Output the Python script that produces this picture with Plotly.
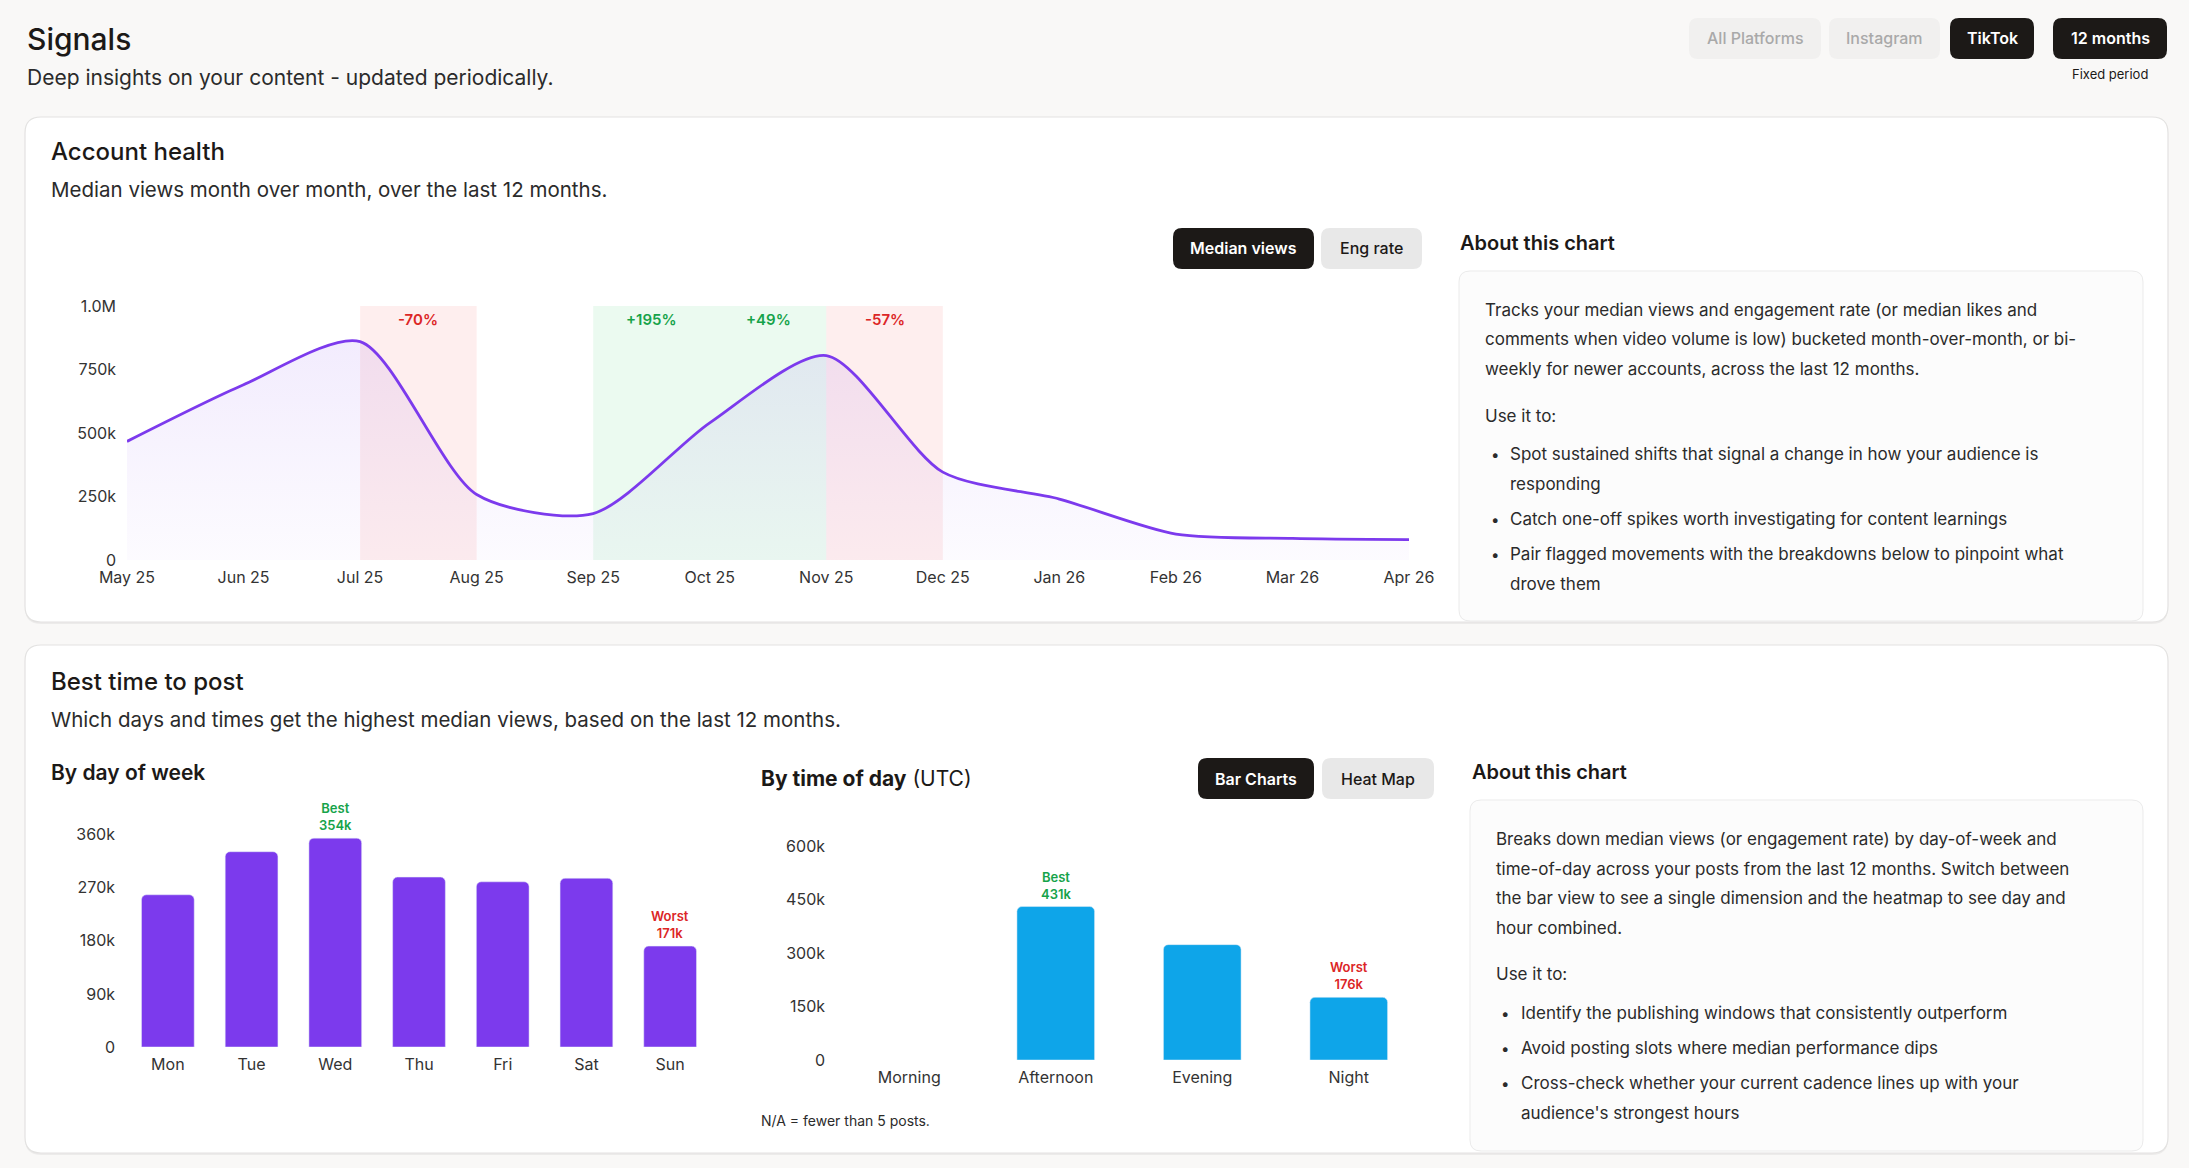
import plotly.graph_objects as go

# ---------------- DATA ----------------
months = ['May 25', 'Jun 25', 'Jul 25', 'Aug 25', 'Sep 25', 'Oct 25',
          'Nov 25', 'Dec 25', 'Jan 26', 'Feb 26', 'Mar 26', 'Apr 26']
median_views = [467000, 690000, 860000, 258000, 183000, 540000,
                805000, 346000, 240000, 102000, 85000, 80000]
flag_start = ['Jul 25', 'Sep 25', 'Oct 25', 'Nov 25']
flag_label = ['-70%', '+195%', '+49%', '-57%']
views_ticks = [0, 250000, 500000, 750000, 1000000]
views_ticktext = ['0', '250k', '500k', '750k', '1.0M']

days = ['Mon', 'Tue', 'Wed', 'Thu', 'Fri', 'Sat', 'Sun']
day_views = [258000, 331000, 354000, 288000, 280000, 286000, 171000]
day_ticks = [0, 90000, 180000, 270000, 360000]
day_ticktext = ['0', '90k', '180k', '270k', '360k']

times = ['Morning', 'Afternoon', 'Evening', 'Night']
time_views = [None, 431000, 324000, 176000]
time_ticks = [0, 150000, 300000, 450000, 600000]
time_ticktext = ['0', '150k', '300k', '450k', '600k']

about1 = ["Tracks your median views and engagement rate (or median likes and",
          "comments when video volume is low) bucketed month-over-month, or bi-",
          "weekly for newer accounts, across the last 12 months."]
bullets1 = [["Spot sustained shifts that signal a change in how your audience is", "responding"],
            ["Catch one-off spikes worth investigating for content learnings"],
            ["Pair flagged movements with the breakdowns below to pinpoint what", "drove them"]]
about2 = ["Breaks down median views (or engagement rate) by day-of-week and",
          "time-of-day across your posts from the last 12 months. Switch between",
          "the bar view to see a single dimension and the heatmap to see day and",
          "hour combined."]
bullets2 = [["Identify the publishing windows that consistently outperform"],
            ["Avoid posting slots where median performance dips"],
            ["Cross-check whether your current cadence lines up with your", "audience's strongest hours"]]

# ---------------- HELPERS ----------------
W, H = 2189, 1168
FONT = 'Inter'
DARK = '#1c1917'
TXT = '#2b2b2b'
PURPLE = '#7c3aed'
BLUE = '#0ea5e9'
GREEN = '#16a34a'
RED = '#dc2626'


def fx(px):
    return px / W


def fy(py):
    return 1 - py / H


def rrect_path(x0, y0, x1, y1, r):
    def P(x, y):
        return f"{fx(x):.6f},{fy(y):.6f}"
    return (f"M {P(x0 + r, y0)} L {P(x1 - r, y0)} Q {P(x1, y0)} {P(x1, y0 + r)} "
            f"L {P(x1, y1 - r)} Q {P(x1, y1)} {P(x1 - r, y1)} "
            f"L {P(x0 + r, y1)} Q {P(x0, y1)} {P(x0, y1 - r)} "
            f"L {P(x0, y0 + r)} Q {P(x0, y0)} {P(x0 + r, y0)} Z")


shapes = []
annotations = []


def box(x0, y0, x1, y1, r, fill, line=None, lw=1):
    shapes.append(dict(type='path', path=rrect_path(x0, y0, x1, y1, r), xref='paper', yref='paper',
                       fillcolor=fill, line=dict(color=line or 'rgba(0,0,0,0)', width=lw if line else 0),
                       layer='below'))


def text(x, y, s, size, color=TXT, weight=400, anchor='left'):
    annotations.append(dict(x=fx(x), y=fy(y), xref='paper', yref='paper', text=s, showarrow=False,
                            xanchor=anchor, yanchor='middle',
                            font=dict(family=FONT, size=size, color=color, weight=weight)))


def button(x0, y0, x1, y1, label, dark, size=16, muted=False):
    if dark:
        box(x0, y0, x1, y1, 9, DARK)
        text((x0 + x1) / 2, (y0 + y1) / 2, label, size, '#ffffff', 600, 'center')
    else:
        box(x0, y0, x1, y1, 9, '#f1f0ef' if muted else '#e8e8e8')
        text((x0 + x1) / 2, (y0 + y1) / 2, label, size, '#a9a9a9' if muted else DARK, 500, 'center')


# ---------------- PAGE CHROME ----------------
for (cy0, cy1) in [(117, 622), (645, 1153)]:
    box(25, cy0 + 2, 2168, cy1 + 2, 16, 'rgba(0,0,0,0.05)')
    box(25, cy0, 2168, cy1, 16, '#ffffff', '#e3e2e1', 1.2)

box(1459, 271, 2143, 621, 11, '#fcfcfc', '#ebebeb', 1)
box(1470, 800, 2143, 1151, 11, '#fcfcfc', '#ebebeb', 1)

text(25, 39, 'Signals', 30, DARK, 500)
text(25, 78, 'Deep insights on your content - updated periodically.', 21, TXT)
button(1689, 18, 1821, 59, 'All Platforms', False, 16, muted=True)
button(1829, 18, 1940, 59, 'Instagram', False, 16, muted=True)
button(1950, 18, 2034, 59, 'TikTok', True, 16)
button(2053, 18, 2167, 59, '12 months', True, 16)
text(2110, 74, 'Fixed period', 13, DARK, 400, 'center')

text(49, 152, 'Account health', 24, DARK, 500)
text(49, 189, 'Median views month over month, over the last 12 months.', 20.5, TXT)
button(1173, 228, 1314, 269, 'Median views', True, 16)
button(1321, 228, 1422, 269, 'Eng rate', False, 16)
text(1458, 243, 'About this chart', 20, DARK, 600)

ys = [310, 339.5, 369]
for s, y in zip(about1, ys):
    text(1483, y, s, 17, TXT)
text(1483, 416, 'Use it to:', 17, TXT)
by = [454, 519, 554]
for lines, y in zip(bullets1, by):
    text(1495, y, '•', 15, TXT, 400, 'center')
    for k, s in enumerate(lines):
        text(1508, y + k * 29.5, s, 17, TXT)

text(49, 681, 'Best time to post', 24, DARK, 500)
text(49, 719, 'Which days and times get the highest median views, based on the last 12 months.', 20.5, TXT)
text(49, 772, 'By day of week', 21, DARK, 600)
text(759, 778, '<b>By time of day</b> (UTC)', 21, DARK, 400)
button(1198, 758, 1314, 799, 'Bar Charts', True, 16)
button(1322, 758, 1434, 799, 'Heat Map', False, 16)
text(759, 1120, 'N/A = fewer than 5 posts.', 14, TXT)
text(1470, 772, 'About this chart', 20, DARK, 600)
ys2 = [839, 868.5, 898, 927.5]
for s, y in zip(about2, ys2):
    text(1494, y, s, 17, TXT)
text(1494, 974, 'Use it to:', 17, TXT)
by2 = [1013, 1048, 1083]
for lines, y in zip(bullets2, by2):
    text(1505, y, '•', 15, TXT, 400, 'center')
    for k, s in enumerate(lines):
        text(1519, y + k * 30, s, 17, TXT)

# ---------------- CHARTS ----------------
fig = go.Figure()
xi = list(range(len(months)))

for st, lab in zip(flag_start, flag_label):
    i = months.index(st)
    up = lab.startswith('+')
    shapes.append(dict(type='rect', xref='x', yref='y', x0=i, x1=i + 1, y0=0, y1=max(views_ticks),
                       fillcolor='rgba(34,197,94,0.09)' if up else 'rgba(239,68,68,0.09)',
                       line=dict(width=0), layer='below'))
    annotations.append(dict(x=i + 0.5, y=max(views_ticks), xref='x', yref='y', text=lab, showarrow=False,
                            yanchor='top', yshift=-2,
                            font=dict(family=FONT, size=15, weight=600, color=GREEN if up else RED)))

fig.add_trace(go.Scatter(
    x=xi, y=median_views, mode='lines', line=dict(color=PURPLE, width=2.8, shape='spline', smoothing=0.75),
    fill='tozeroy',
    fillgradient=dict(type='vertical', start=0, stop=900000,
                      colorscale=[[0, 'rgba(124,58,237,0.02)'], [1, 'rgba(124,58,237,0.10)']]),
    hoverinfo='skip', showlegend=False, xaxis='x', yaxis='y'))

fig.add_trace(go.Bar(x=days, y=day_views, width=0.63, marker=dict(color=PURPLE, cornerradius=5),
                     showlegend=False, hoverinfo='skip', xaxis='x2', yaxis='y2'))
fig.add_trace(go.Bar(x=times, y=time_views, width=0.53, marker=dict(color=BLUE, cornerradius=5),
                     showlegend=False, hoverinfo='skip', xaxis='x3', yaxis='y3'))


def best_worst(cats, vals, xr, yr):
    valid = [(v, c) for c, v in zip(cats, vals) if v is not None]
    hi = max(valid)
    lo = min(valid)
    for (v, c), lab, col in [(hi, 'Best', GREEN), (lo, 'Worst', RED)]:
        annotations.append(dict(x=c, y=v, xref=xr, yref=yr, text=f'{lab}<br>{round(v / 1000)}k',
                                showarrow=False, yanchor='bottom', yshift=3,
                                font=dict(family=FONT, size=13, weight=600, color=col)))


best_worst(days, day_views, 'x2', 'y2')
best_worst(times, time_views, 'x3', 'y3')

tickfont = dict(family=FONT, size=16, color='#333333')
axis_common = dict(showgrid=False, zeroline=False, showline=False, ticks='', tickfont=tickfont,
                   fixedrange=True, automargin=False)

fig.update_layout(
    width=W, height=H, margin=dict(l=0, r=0, t=0, b=0, pad=0, autoexpand=False),
    paper_bgcolor='#f9f8f7', plot_bgcolor='rgba(0,0,0,0)',
    font=dict(family=FONT, color=TXT),
    xaxis=dict(axis_common, domain=[fx(127), fx(1409)], range=[0, len(months) - 1],
               tickvals=xi, ticktext=months, ticklabelstandoff=6, anchor='y'),
    yaxis=dict(axis_common, domain=[fy(560), fy(306)], range=[0, max(views_ticks)],
               tickvals=views_ticks, ticktext=views_ticktext, ticklabelstandoff=10, anchor='x'),
    xaxis2=dict(axis_common, domain=[fx(126), fx(712)], range=[-0.5, len(days) - 0.5],
                ticklabelstandoff=6, anchor='y2'),
    yaxis2=dict(axis_common, domain=[fy(1047), fy(811)], range=[0, 400000],
                tickvals=day_ticks, ticktext=day_ticktext, ticklabelstandoff=10, anchor='x2'),
    xaxis3=dict(axis_common, domain=[fx(836), fx(1422)], range=[-0.5, len(times) - 0.5],
                ticklabelstandoff=6, anchor='y3'),
    yaxis3=dict(axis_common, domain=[fy(1060), fy(825)], range=[0, 660000],
                tickvals=time_ticks, ticktext=time_ticktext, ticklabelstandoff=10, anchor='x3'),
    shapes=shapes, annotations=annotations,
)

fig.write_html('out.html', config={'displayModeBar': False})
